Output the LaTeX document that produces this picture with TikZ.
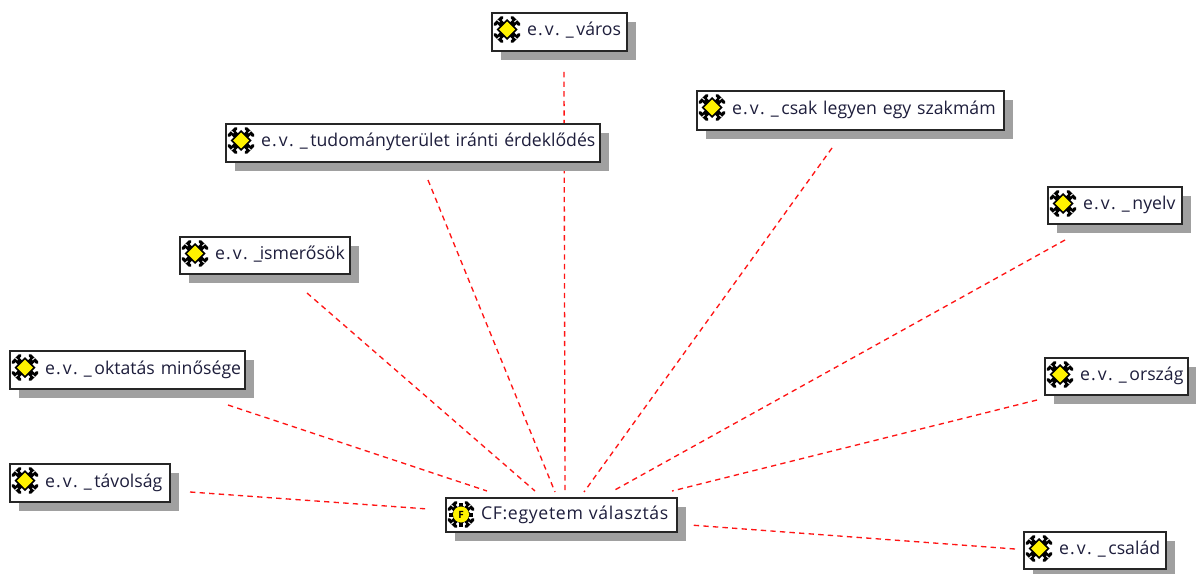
\documentclass[tikz,border=0pt]{standalone}
\usepackage{fontspec}
\setmainfont{Open Sans}
\definecolor{shadowgray}{RGB}{160,160,160}
\definecolor{linkred}{RGB}{255,20,20}
\definecolor{labelink}{RGB}{30,30,60}
\pgfdeclarelayer{bottom}
\pgfdeclarelayer{links}
\pgfsetlayers{bottom,links,main}
\newcommand{\ev}{e\kern1pt.\kern1.5pt v\kern1pt.\kern4.5pt\_\kern2pt}
\tikzset{
  box/.style={draw=black!85,line width=1.25pt,fill=white,inner sep=0pt,outer sep=0pt,anchor=north west,
    text=labelink,font=\fontsize{13.25}{15}\selectfont,align=left,text height=9.5pt,text depth=3.5pt},
  link/.style={draw=linkred,line width=1pt,dash pattern=on 4pt off 3.2pt},
  shade box/.style={fill=shadowgray,draw=none},
}
% #1 name, #2 x0, #3 y0, #4 x1, #5 y1, #6 text, #7 icon
\newcommand{\cbox}[7]{%
  \fill[shade box] (#2+8.5,#3+9) rectangle (#4+8.5,#5+9);
  \pgfmathsetmacro{\bw}{(#4-#2)*0.75}\pgfmathsetmacro{\bh}{(#5-#3)*0.75}
  \node[box,minimum width=\bw pt,minimum height=\bh pt,text width=\bw pt] (#1) at (#2,#3) {\hspace*{26.25pt}#6};
  \begin{scope}[shift={(#2+15,#3+16.5)}]#7\end{scope}
}
\newcommand{\iconArms}{%
  \foreach \a in {45,135,225,315}{
    \draw[black,line width=4.4pt] (0,0) -- (\a:11.5);
    \draw[black,line width=2.4pt,line cap=round] (\a+22:13) -- (\a-22:13);
    \draw[white,line width=0.7pt] (\a:10.5) -- (\a:13.5);
  }
  \fill[black] (0,-10.5) -- (10.5,0) -- (0,10.5) -- (-10.5,0) -- cycle;
}
\newcommand{\iconE}{%
  \iconArms
  \fill[yellow] (0,-8) -- (8,0) -- (0,8) -- (-8,0) -- cycle;
}
\newcommand{\iconF}{%
  \foreach \a in {0,90,180,270}{\draw[black,line width=3pt] (0,0) -- (\a:12);}
  \iconArms
  \fill[yellow] (0,0) circle (8);
  \node[inner sep=0pt,font=\fontsize{7.5}{8}\bfseries\selectfont,text=black] (cficon) at (0,0) {F};
}
\begin{document}
\begin{tikzpicture}[x=0.75pt,y=-0.75pt]
\useasboundingbox (0,0) rectangle (1196,574);
\begin{pgfonlayer}{bottom}
\fill[white] (0,0) rectangle (1196,574);
\end{pgfonlayer}
\cbox{varos}{492}{13}{627}{51}{\ev város}{\iconE}
\cbox{csak}{697}{91}{1004}{130}{\ev csak legyen egy szakmám}{\iconE}
\cbox{tud}{226}{124}{600}{162}{\ev tudományterület iránti érdeklődés}{\iconE}
\cbox{nyelv}{1048}{187}{1182}{224}{\ev nyelv}{\iconE}
\cbox{ism}{180}{237}{350}{274}{\ev\kern-3.5pt ismerősök}{\iconE}
\cbox{okt}{10}{351}{245}{389}{\ev oktatás minősége}{\iconE}
\cbox{orsz}{1045}{358}{1188}{395}{\ev ország}{\iconE}
\cbox{tav}{10}{464}{170}{502}{\ev távolság}{\iconE}
\cbox{csal}{1024}{532}{1166}{569}{\ev család}{\iconE}
\cbox{cf}{446}{498}{677}{532}{\addfontfeature{LetterSpace=3.8}CF:egyetem választás}{\iconF}
\begin{pgfonlayer}{links}
\draw[link] ([shift={(72,59)}]varos.north west) -- ([shift={(119,-7)}]cf.north west);
\draw[link] ([shift={(135,57)}]csak.north west) -- ([shift={(138,-6)}]cf.north west);
\draw[link] ([shift={(202,56)}]tud.north west) -- ([shift={(109,-6)}]cf.north west);
\draw[link] ([shift={(17,53)}]nyelv.north west) -- ([shift={(167,-7)}]cf.north west);
\draw[link] ([shift={(127,56)}]ism.north west) -- ([shift={(89,-7)}]cf.north west);
\draw[link] ([shift={(218,54)}]okt.north west) -- ([shift={(41,-7)}]cf.north west);
\draw[link] ([shift={(-8,42)}]orsz.north west) -- ([shift={(226,-7)}]cf.north west);
\draw[link] ([shift={(180,28)}]tav.north west) -- ([shift={(-18,11)}]cf.north west);
\draw[link] ([shift={(-9,17)}]csal.north west) -- ([shift={(244,27)}]cf.north west);
\end{pgfonlayer}
\end{tikzpicture}
\end{document}
